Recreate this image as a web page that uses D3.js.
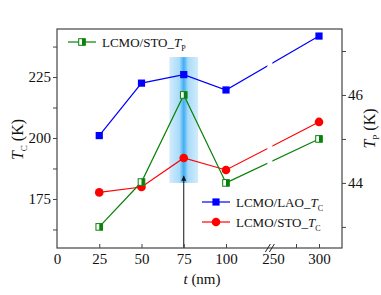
<!DOCTYPE html>
<html>
<head>
<meta charset="utf-8">
<script src="https://cdn.jsdelivr.net/npm/d3@7"></script>
<style>
  body { margin: 0; background: #ffffff; }
</style>
</head>
<body>
<div id="chart"></div>
<script>
// Data
const thickness = [25, 50, 75, 100, 300];
const laoTc = [201, 222.5, 226, 219.7, 241.8];
const stoTc = [177.7, 179.9, 191.8, 186.9, 206.6];
const stoTp = [43.0, 44.02, 46.0, 44.0, 45.0];

const xTicks = [0, 25, 50, 75, 100, 250, 300];
const xInnerTicks = [25, 50, 75, 100, 275, 300];
const leftTicks = [175, 200, 225];
const leftMinor = [162.5, 187.5, 212.5, 237.5];
const rightTicks = [44, 46];
const rightMinor = [43, 45, 47];

// highlighted region around t = 75 nm (in data units)
const band = { t0: 66.5, t1: 83.5, top: 233.2, bottom: 181.6 };
const arrowTip = 184.5;
const breakAt = 240;

document.addEventListener('DOMContentLoaded', function() {
    const blue = "#0000ff";
    const red = "#ff0000";
    const green = "#0a820a";
    const font = "Liberation Serif";

    const margin = { top: 29, right: 39, bottom: 47, left: 57 };
    const width = 381 - margin.left - margin.right;
    const height = 295 - margin.top - margin.bottom;

    const root = d3.select("#chart")
        .append("svg")
        .attr("width", 381)
        .attr("height", 295)
        .style("display", "block")
        .style("font-family", font);

    const defs = root.append("defs");

    const bandGradient = defs.append("linearGradient")
        .attr("id", "band-gradient")
        .attr("x1", "0%").attr("y1", "0%")
        .attr("x2", "100%").attr("y2", "0%");
    [["0%", "#d2ecfc"], ["35%", "#a9dbf9"], ["50%", "#3fadf4"], ["65%", "#a9dbf9"], ["100%", "#d2ecfc"]]
        .forEach(s => bandGradient.append("stop").attr("offset", s[0]).attr("stop-color", s[1]));

    defs.append("marker")
        .attr("id", "arrow")
        .attr("viewBox", "0 0 10 10")
        .attr("refX", 10).attr("refY", 5)
        .attr("markerWidth", 7).attr("markerHeight", 5)
        .attr("markerUnits", "userSpaceOnUse")
        .attr("orient", "auto")
        .append("path")
        .attr("d", "M0,0L10,5L0,10Z")
        .attr("fill", "#111");

    const svg = root.append("g")
        .attr("transform", `translate(${margin.left},${margin.top})`);

    // Scales (x has a break between 100 and 250)
    const x = d3.scaleLinear()
        .domain([0, 100, 250, 300])
        .range([0, 169, 216, 262]);

    const yLeft = d3.scaleLinear()
        .domain([154.9, 244.7])
        .range([height, 0]);

    const yRight = d3.scaleLinear()
        .domain([42.52, 47.5])
        .range([height, 0]);

    // gap in the lines at the axis break
    const xb = x(breakAt);
    const clip = defs.append("clipPath").attr("id", "line-clip");
    clip.append("rect").attr("x", -10).attr("y", -10).attr("width", xb - 2.5 + 10).attr("height", height + 20);
    clip.append("rect").attr("x", xb + 2.5).attr("y", -10).attr("width", width).attr("height", height + 20);

    // Highlight band
    svg.append("rect")
        .attr("x", x(band.t0))
        .attr("y", yLeft(band.top))
        .attr("width", x(band.t1) - x(band.t0))
        .attr("height", yLeft(band.bottom) - yLeft(band.top))
        .attr("fill", "url(#band-gradient)");

    // Arrow
    svg.append("line")
        .attr("x1", x(75)).attr("y1", height)
        .attr("x2", x(75)).attr("y2", yLeft(arrowTip))
        .attr("stroke", "#111")
        .attr("stroke-width", 1)
        .attr("marker-end", "url(#arrow)");

    // Frame
    svg.append("rect")
        .attr("width", width)
        .attr("height", height)
        .attr("fill", "none")
        .attr("stroke", "#444")
        .attr("stroke-width", 1.2);

    // style an axis group: serif labels, grey ticks, no domain line
    function styleAxis(g) {
        g.attr("font-family", font).attr("font-size", 15);
        g.select(".domain").remove();
        g.selectAll(".tick line").attr("stroke", "#444");
        g.selectAll(".tick text").attr("fill", "#111").style("font-family", font);
    }

    // Axes
    svg.append("g")
        .attr("transform", `translate(0,${height})`)
        .call(d3.axisBottom(x).tickValues(xTicks).tickSize(0).tickPadding(5).tickFormat(d3.format("d")))
        .call(styleAxis);

    svg.append("g")
        .attr("transform", `translate(0,${height})`)
        .call(d3.axisTop(x).tickValues(xInnerTicks).tickSize(4).tickFormat(""))
        .call(styleAxis);

    svg.append("g")
        .call(d3.axisLeft(yLeft).tickValues(leftTicks).tickSize(4).tickPadding(2))
        .call(styleAxis);

    svg.append("g")
        .call(d3.axisLeft(yLeft).tickValues(leftMinor).tickSize(4).tickFormat(""))
        .call(styleAxis);

    svg.append("g")
        .attr("transform", `translate(${width},0)`)
        .call(d3.axisRight(yRight).tickValues(rightTicks).tickSize(4).tickPadding(2).tickFormat(d3.format("d")))
        .call(styleAxis);

    svg.append("g")
        .attr("transform", `translate(${width},0)`)
        .call(d3.axisRight(yRight).tickValues(rightMinor).tickSize(4).tickFormat(""))
        .call(styleAxis);

    // Axis break marks
    [-2, 2].forEach(dx => {
        svg.append("line")
            .attr("x1", xb + dx - 2.5).attr("y1", height + 4)
            .attr("x2", xb + dx + 2.5).attr("y2", height - 4)
            .attr("stroke", "#222")
            .attr("stroke-width", 1);
    });

    // Axis titles
    const xTitle = svg.append("text")
        .attr("x", 145)
        .attr("y", height + 36)
        .attr("text-anchor", "middle")
        .attr("fill", "#111")
        .style("font-family", font)
        .style("font-size", "15px");
    xTitle.append("tspan").style("font-style", "italic").text("t");
    xTitle.append("tspan").text(" (nm)");

    function tTitle(sel, sub) {
        sel.append("tspan").style("font-style", "italic").text("T");
        sel.append("tspan").attr("dy", 4).style("font-size", "9px").text(sub);
        sel.append("tspan").attr("dy", -4).text(" (K)");
    }

    const leftTitle = svg.append("text")
        .attr("transform", `translate(${-34},${height / 2 + 1}) rotate(-90)`)
        .attr("text-anchor", "middle")
        .attr("fill", "#111")
        .style("font-family", font)
        .style("font-size", "16px");
    tTitle(leftTitle, "C");

    const rightTitle = svg.append("text")
        .attr("transform", `translate(${width + 33},${height / 2 - 10}) rotate(-90)`)
        .attr("text-anchor", "middle")
        .attr("fill", "#111")
        .style("font-family", font)
        .style("font-size", "16px");
    tTitle(rightTitle, "P");

    // Series
    const series = [
        { name: "lao", values: laoTc, y: yLeft, color: blue, marker: "square" },
        { name: "stoTc", values: stoTc, y: yLeft, color: red, marker: "circle" },
        { name: "stoTp", values: stoTp, y: yRight, color: green, marker: "half" }
    ];

    const lines = svg.append("g").attr("clip-path", "url(#line-clip)");

    series.forEach(s => {
        const pts = thickness.map((t, i) => ({ t: t, v: s.values[i] }));
        const line = d3.line()
            .x(d => x(d.t))
            .y(d => s.y(d.v));
        lines.append("path")
            .datum(pts)
            .attr("d", line)
            .attr("fill", "none")
            .attr("stroke", s.color)
            .attr("stroke-width", 1.2);
    });

    function drawMarker(g, type, cx, cy, color) {
        if (type === "square") {
            g.append("rect")
                .attr("x", cx - 3.6).attr("y", cy - 3.6)
                .attr("width", 7.2).attr("height", 7.2)
                .attr("fill", color);
        } else if (type === "circle") {
            g.append("circle")
                .attr("cx", cx).attr("cy", cy).attr("r", 4.3)
                .attr("fill", color);
        } else {
            g.append("rect")
                .attr("x", cx - 3.3).attr("y", cy - 3.3)
                .attr("width", 6.6).attr("height", 6.6)
                .attr("fill", "#fff")
                .attr("stroke", color).attr("stroke-width", 1);
            g.append("rect")
                .attr("x", cx).attr("y", cy - 3.3)
                .attr("width", 3.3).attr("height", 6.6)
                .attr("fill", color);
        }
    }

    const markers = svg.append("g");
    series.forEach(s => {
        thickness.forEach((t, i) => drawMarker(markers, s.marker, x(t), s.y(s.values[i]), s.color));
    });

    // Legends
    const legendItems = [
        { x: 11, y: 13, color: green, marker: "half", label: "LCMO/STO_", sub: "P" },
        { x: 145, y: 173, color: blue, marker: "square", label: "LCMO/LAO_", sub: "C" },
        { x: 145, y: 193, color: red, marker: "circle", label: "LCMO/STO_", sub: "C" }
    ];

    legendItems.forEach(d => {
        const g = svg.append("g");
        g.append("line")
            .attr("x1", d.x).attr("x2", d.x + 28)
            .attr("y1", d.y).attr("y2", d.y)
            .attr("stroke", d.color)
            .attr("stroke-width", 1.2);
        drawMarker(g, d.marker, d.x + 14, d.y, d.color);
        const txt = g.append("text")
            .attr("x", d.x + 34)
            .attr("y", d.y + 4.5)
            .attr("fill", "#111")
            .style("font-family", font)
            .style("font-size", "13px");
        txt.append("tspan").text(d.label);
        txt.append("tspan").style("font-style", "italic").text("T");
        txt.append("tspan").attr("dy", 4).style("font-size", "8px").text(d.sub);
    });
});
</script>
</body>
</html>
